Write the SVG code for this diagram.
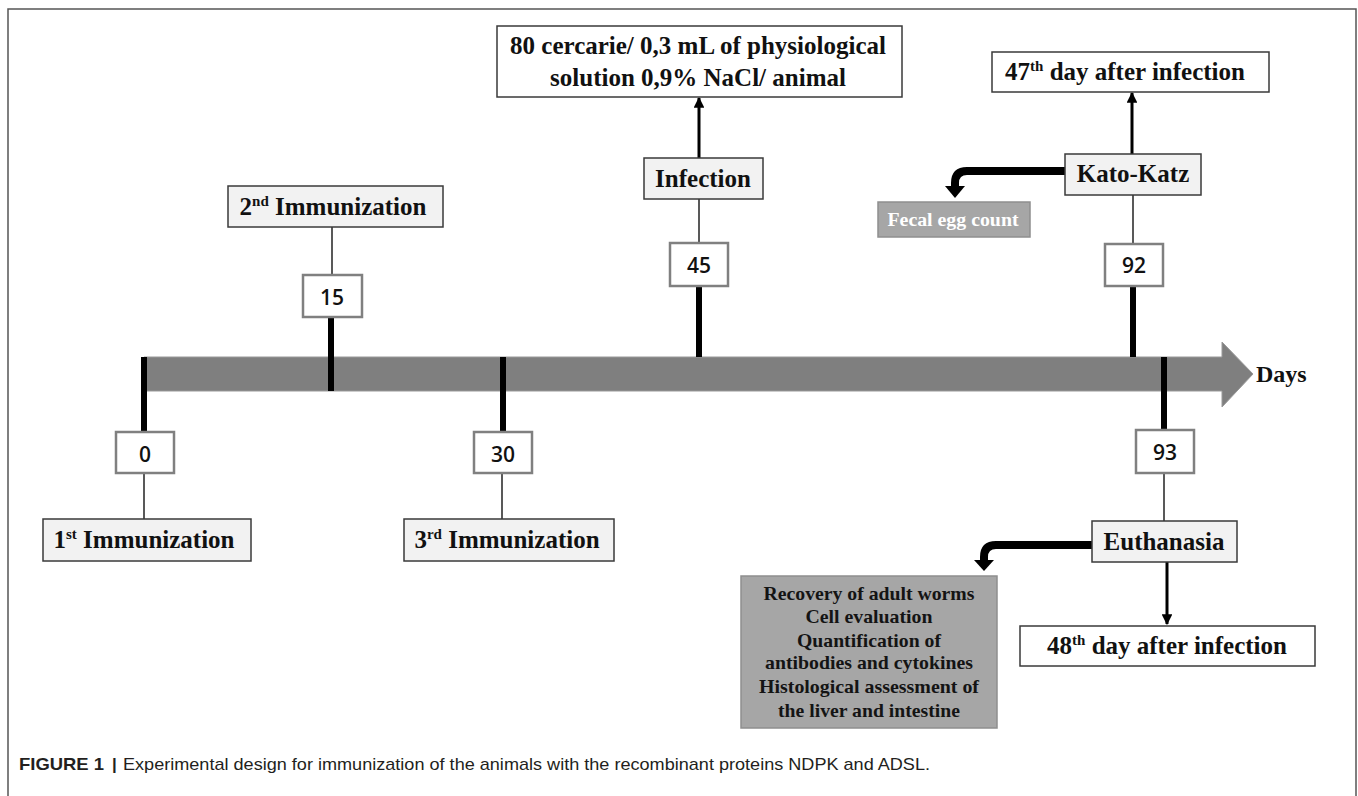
<svg xmlns="http://www.w3.org/2000/svg" width="1358" height="796" viewBox="0 0 1358 796">
<style>
.lbl{fill:#f2f2f2;stroke:#3a3a3a;stroke-width:1.5}
.out{fill:#ffffff;stroke:#3a3a3a;stroke-width:1.5}
.num{fill:#ffffff;stroke:#808080;stroke-width:2.5}
.grey{fill:#a6a6a6;stroke:#8e8e8e;stroke-width:1.5}
.t{font-family:"Liberation Serif","Times New Roman",serif;font-weight:bold;font-size:25px;fill:#111;text-anchor:middle}
.sup{font-size:15px}
.n{font-family:"Open Sans","DejaVu Sans",sans-serif;font-weight:600;font-size:21px;fill:#111;text-anchor:middle}
.g{font-family:"Liberation Serif","Times New Roman",serif;font-weight:bold;font-size:19px;fill:#141414;text-anchor:middle}
.tick{stroke:#000;stroke-width:6;fill:none}
.thin{stroke:#222;stroke-width:1.5;fill:none}
.arr{stroke:#000;stroke-width:3;fill:none}
.bend{stroke:#000;stroke-width:8;fill:none}
.cap{font-family:"Liberation Sans",Arial,sans-serif;font-size:17px;fill:#231f20}
</style>
<defs>
<marker id="ah" viewBox="0 0 10 10" refX="9" refY="5" markerWidth="3.6" markerHeight="3.6" orient="auto" markerUnits="strokeWidth">
<path d="M0,0 L10,5 L0,10 z" fill="#000"/>
</marker>
</defs>
<rect x="8" y="9" width="1348" height="800" fill="none" stroke="#555" stroke-width="1.5"/>

<g id="timeline">
<path d="M144,357 H1222 V342 L1253,374 L1222,407 V391 H144 Z" fill="#7f7f7f" stroke="#999" stroke-width="1"/>
<text class="t" x="1256" y="382" style="text-anchor:start;font-size:24px">Days</text>
</g>

<g id="connectors">
<line class="tick" x1="144" y1="357" x2="144" y2="432"/>
<line class="tick" x1="331" y1="317" x2="331" y2="391"/>
<line class="tick" x1="503" y1="357" x2="503" y2="432"/>
<line class="tick" x1="699" y1="286" x2="699" y2="357"/>
<line class="tick" x1="1133" y1="286" x2="1133" y2="357"/>
<line class="tick" x1="1164" y1="357" x2="1164" y2="430"/>
<line class="thin" x1="144" y1="473" x2="144" y2="519"/>
<line class="thin" x1="332" y1="227" x2="332" y2="275"/>
<line class="thin" x1="502" y1="473" x2="502" y2="519"/>
<line class="thin" x1="699" y1="199" x2="699" y2="243"/>
<line class="thin" x1="1133" y1="195" x2="1133" y2="244"/>
<line class="thin" x1="1164" y1="473" x2="1164" y2="521"/>
<line class="arr" x1="699" y1="158" x2="699" y2="98" marker-end="url(#ah)"/>
<line class="arr" x1="1132" y1="154" x2="1132" y2="93" marker-end="url(#ah)"/>
<line class="arr" x1="1167" y1="562" x2="1167" y2="624" stroke-width="2.5" marker-end="url(#ah)"/>
<path class="bend" d="M1065,171 H967 Q955,171 955,183 V187"/>
<polygon points="945,186 965,186 955,198" fill="#000"/>
<path class="bend" d="M1092,545 H996 Q984,545 984,557 V561"/>
<polygon points="974,560 994,560 984,571" fill="#000"/>
</g>

<g id="n0"><rect class="num" x="116" y="432" width="58" height="41"/><text class="n" x="145" y="462">0</text></g>
<g id="n15"><rect class="num" x="303" y="275" width="59" height="42"/><text class="n" x="332" y="305">15</text></g>
<g id="n30"><rect class="num" x="474" y="432" width="58" height="41"/><text class="n" x="503" y="462">30</text></g>
<g id="n45"><rect class="num" x="670" y="243" width="58" height="43"/><text class="n" x="699" y="273">45</text></g>
<g id="n92"><rect class="num" x="1105" y="244" width="58" height="42"/><text class="n" x="1134" y="273">92</text></g>
<g id="n93"><rect class="num" x="1136" y="430" width="58" height="43"/><text class="n" x="1165" y="460">93</text></g>

<g id="imm1"><rect class="lbl" x="43" y="519" width="208" height="42"/><text class="t" x="144" y="548">1<tspan class="sup" dy="-9">st</tspan><tspan dy="9"> Immunization</tspan></text></g>
<g id="imm2"><rect class="lbl" x="228" y="186" width="215" height="41"/><text class="t" x="333" y="215">2<tspan class="sup" dy="-9">nd</tspan><tspan dy="9"> Immunization</tspan></text></g>
<g id="imm3"><rect class="lbl" x="404" y="519" width="210" height="42"/><text class="t" x="507" y="548">3<tspan class="sup" dy="-9">rd</tspan><tspan dy="9"> Immunization</tspan></text></g>

<g id="infection"><rect class="lbl" x="644" y="158" width="119" height="41"/><text class="t" x="703" y="187">Infection</text></g>
<g id="cercarie"><rect class="out" x="497" y="26" width="405" height="71"/><text class="t" x="698" y="54">80 cercarie/ 0,3 mL of physiological</text><text class="t" x="698" y="86">solution 0,9% NaCl/ animal</text></g>

<g id="katokatz"><rect class="lbl" x="1065" y="154" width="136" height="41"/><text class="t" x="1133" y="182">Kato-Katz</text></g>
<g id="day47"><rect class="out" x="992" y="52" width="277" height="40"/><text class="t" x="1125" y="80">47<tspan class="sup" dy="-9">th</tspan><tspan dy="9"> day after infection</tspan></text></g>
<g id="fecal"><rect class="grey" x="878" y="202" width="152" height="35"/><text class="g" x="953" y="226" style="fill:#fff;font-size:18px" textLength="131" lengthAdjust="spacingAndGlyphs">Fecal egg count</text></g>

<g id="euthanasia"><rect class="lbl" x="1092" y="521" width="145" height="41"/><text class="t" x="1164" y="550">Euthanasia</text></g>
<g id="day48"><rect class="out" x="1020" y="626" width="295" height="40"/><text class="t" x="1167" y="654">48<tspan class="sup" dy="-9">th</tspan><tspan dy="9"> day after infection</tspan></text></g>
<g id="analyses"><rect class="grey" x="741" y="576" width="256" height="152"/>
<text class="g" x="869" y="600" textLength="211" lengthAdjust="spacingAndGlyphs">Recovery of adult worms</text>
<text class="g" x="869" y="623" textLength="127" lengthAdjust="spacingAndGlyphs">Cell evaluation</text>
<text class="g" x="869" y="647" textLength="144" lengthAdjust="spacingAndGlyphs">Quantification of</text>
<text class="g" x="869" y="669" textLength="208" lengthAdjust="spacingAndGlyphs">antibodies and cytokines</text>
<text class="g" x="869" y="693" textLength="220" lengthAdjust="spacingAndGlyphs">Histological assessment of</text>
<text class="g" x="869" y="717" textLength="182" lengthAdjust="spacingAndGlyphs">the liver and intestine</text>
</g>

<g id="caption">
<text class="cap" x="19" y="770" font-weight="bold" textLength="85" lengthAdjust="spacingAndGlyphs">FIGURE 1</text>
<text class="cap" x="112" y="770" font-weight="bold">|</text>
<text class="cap" x="123" y="770" textLength="807" lengthAdjust="spacingAndGlyphs">Experimental design for immunization of the animals with the recombinant proteins NDPK and ADSL.</text>
</g>
</svg>
